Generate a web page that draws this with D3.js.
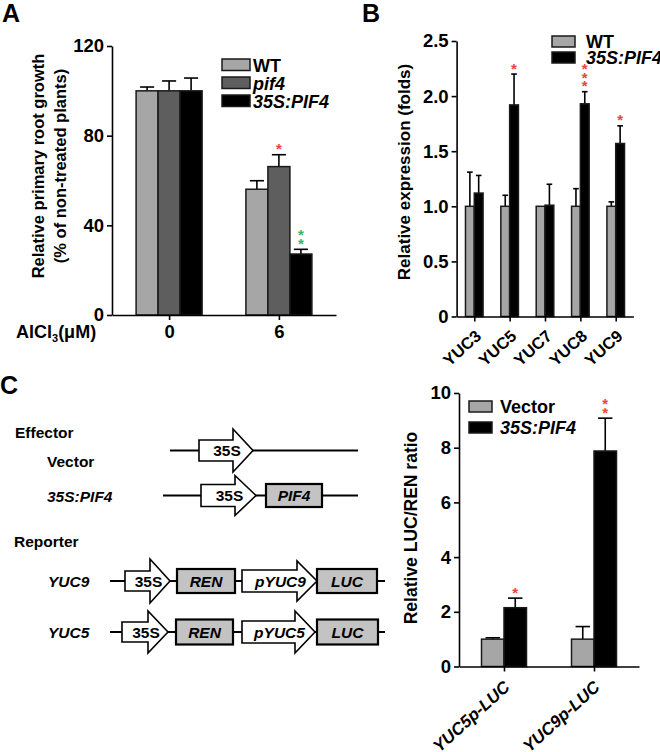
<!DOCTYPE html>
<html><head><meta charset="utf-8">
<script src="https://cdn.jsdelivr.net/npm/d3@7"></script>
<style>
body{margin:0;background:#fff}
svg{display:block;font-family:"Liberation Sans",Arial,Helvetica,sans-serif;font-weight:bold}
</style></head><body>
<svg id="fig" width="660" height="752"></svg>
<script>
// ---------------- DATA ----------------
// Panel A: relative primary root growth
const aCategories = ["0", "6"];
const aSeriesNames = ["WT", "pif4", "35S:PIF4"];
const aWT = [100, 56.1];
const aWTerr = [1.7, 3.8];
const aPif4 = [100, 66.2];
const aPif4err = [4.4, 5.3];
const aOX = [100, 27.2];
const aOXerr = [5.7, 2.1];
const aTicks = [0, 40, 80, 120];
const aStars = [{cat: "6", series: "pif4", n: 1, color: "red"}, {cat: "6", series: "35S:PIF4", n: 2, color: "green"}];

// Panel B: relative expression
const bCategories = ["YUC3", "YUC5", "YUC7", "YUC8", "YUC9"];
const bSeriesNames = ["WT", "35S:PIF4"];
const bWT = [1.0, 1.0, 1.0, 1.0, 1.0];
const bWTerr = [0.31, 0.10, 0.0, 0.16, 0.04];
const bOX = [1.12, 1.92, 1.01, 1.93, 1.57];
const bOXerr = [0.16, 0.28, 0.19, 0.11, 0.16];
const bTicks = [0, 0.5, 1.0, 1.5, 2.0, 2.5];
const bStars = [{cat: "YUC5", series: "35S:PIF4", n: 1, color: "red"}, {cat: "YUC8", series: "35S:PIF4", n: 3, color: "red"}, {cat: "YUC9", series: "35S:PIF4", n: 1, color: "red"}];

// Panel C: relative LUC/REN ratio
const cCategories = ["YUC5p-LUC", "YUC9p-LUC"];
const cSeriesNames = ["Vector", "35S:PIF4"];
const cVector = [1.0, 1.0];
const cVectorErr = [0.05, 0.46];
const cOX = [2.15, 7.88];
const cOXerr = [0.35, 1.2];
const cTicks = [0, 2, 4, 6, 8, 10];
const cStars = [{cat: "YUC5p-LUC", series: "35S:PIF4", n: 1, color: "red"}, {cat: "YUC9p-LUC", series: "35S:PIF4", n: 2, color: "red"}];

// ---------------- STYLE ----------------
const COLORS = {"WT": "#a6a6a6", "pif4": "#5e5e5e", "35S:PIF4": "#000000", "Vector": "#a6a6a6"};
const STAR = {red: "#e8453c", green: "#35b56e"};
const ITALIC = {"pif4": true, "35S:PIF4": true, "YUC5p-LUC": true, "YUC9p-LUC": true};

const svg = d3.select("#fig");

function styleAxis(sel, fs) {
  sel.selectAll("path.domain").attr("stroke", "#000").attr("stroke-width", 1.6);
  sel.selectAll(".tick line").attr("stroke", "#000").attr("stroke-width", 1.6);
  sel.selectAll(".tick text").attr("fill", "#000").attr("font-size", fs).attr("font-weight", "bold")
    .attr("font-family", '"Liberation Sans", Arial, sans-serif');
}

function barPanel(o) {
  const g = svg.append("g");
  const y = d3.scaleLinear().domain([0, o.yMax]).range([o.yBottom, o.yTop]);
  const x = d3.scalePoint().domain(o.cats).range([o.xLeft, o.xRight]).padding(o.pad);
  const n = o.series.length;
  const sub = d3.scaleBand().domain(o.series.map(s => s.name)).range([-o.barW * n / 2, o.barW * n / 2]);
  const bw = sub.bandwidth();

  o.series.forEach(s => {
    const data = o.cats.map((c, i) => ({c, v: s.values[i], e: s.errs[i]}));
    const cx = d => x(d.c) + sub(s.name) + bw / 2;
    g.selectAll(null).data(data).join("line")
      .attr("x1", cx).attr("x2", cx)
      .attr("y1", d => y(d.v)).attr("y2", d => y(d.v + d.e))
      .attr("stroke", "#000").attr("stroke-width", 1.6);
    g.selectAll(null).data(data.filter(d => d.e > 0)).join("line")
      .attr("x1", d => cx(d) - bw * 0.32).attr("x2", d => cx(d) + bw * 0.32)
      .attr("y1", d => y(d.v + d.e)).attr("y2", d => y(d.v + d.e))
      .attr("stroke", "#000").attr("stroke-width", 1.6);
    g.selectAll(null).data(data).join("rect")
      .attr("x", d => x(d.c) + sub(s.name)).attr("width", bw)
      .attr("y", d => y(d.v)).attr("height", d => y(0) - y(d.v))
      .attr("fill", COLORS[s.name]).attr("stroke", "#1a1a1a").attr("stroke-width", 1.5);
  });

  // stars
  o.stars.forEach(st => {
    const s = o.series.find(q => q.name === st.series);
    const i = o.cats.indexOf(st.cat);
    const top = y(s.values[i] + s.errs[i]);
    const cx = x(st.cat) + sub(st.series) + bw / 2;
    for (let k = 0; k < st.n; k++) {
      g.append("text").attr("x", cx).attr("y", top - 9 - k * 8.5 + 8.5)
        .attr("text-anchor", "middle").attr("font-size", 15).attr("font-weight", "bold")
        .attr("fill", STAR[st.color]).text("*");
    }
  });

  // axes
  const ya = g.append("g").attr("transform", `translate(${o.xLeft},0)`)
    .call(d3.axisLeft(y).tickValues(o.ticks).tickSize(5).tickSizeOuter(0).tickPadding(3).tickFormat(o.fmt));
  styleAxis(ya, o.tickFs);
  const xa = g.append("g").attr("transform", `translate(0,${o.yBottom})`)
    .call(d3.axisBottom(x).tickSize(5).tickSizeOuter(0).tickPadding(5).tickFormat(o.rot ? "" : (d => d)));
  styleAxis(xa, o.tickFs);
  if (o.rot) {
    g.selectAll(null).data(o.cats).join("text")
      .attr("transform", d => `translate(${x(d) + o.rot.dx},${o.yBottom + o.rot.dy}) rotate(${o.rot.angle})`)
      .attr("text-anchor", "end").attr("font-size", o.rot.fs).attr("font-weight", "bold")
      .attr("font-style", d => ITALIC[d] ? "italic" : "normal").text(d => d);
  }
  // y title
  const tg = g.append("g").attr("transform", `translate(${o.title.x},${o.title.y}) rotate(-90)`);
  o.title.lines.forEach((t, i) => {
    tg.append("text").attr("x", 0).attr("y", i * o.title.lh).attr("text-anchor", "middle")
      .attr("font-size", o.title.fs).attr("font-weight", "bold").text(t);
  });
  // legend
  o.series.forEach((s, i) => {
    const L = o.legend;
    g.append("rect").attr("x", L.x).attr("y", L.y + i * L.dy).attr("width", L.w).attr("height", L.h)
      .attr("fill", COLORS[s.name]).attr("stroke", "#1a1a1a").attr("stroke-width", 1.5);
    g.append("text").attr("x", L.tx).attr("y", L.y + i * L.dy + L.h + 1)
      .attr("font-size", L.fs).attr("font-weight", "bold")
      .attr("font-style", ITALIC[s.name] ? "italic" : "normal").text(s.name);
  });
  return {x, y};
}

// Panel A
barPanel({
  cats: aCategories,
  series: [
    {name: aSeriesNames[0], values: aWT, errs: aWTerr},
    {name: aSeriesNames[1], values: aPif4, errs: aPif4err},
    {name: aSeriesNames[2], values: aOX, errs: aOXerr}],
  stars: aStars, yMax: 120, ticks: aTicks, fmt: d3.format("d"),
  yBottom: 315, yTop: 46, xLeft: 112, xRight: 336, pad: 0.52, barW: 22, tickFs: 18.5,
  title: {x: 44, y: 166, lh: 22, fs: 16.5, lines: ["Relative primary root growth", "(% of non-treated plants)"]},
  legend: {x: 222, y: 59, dy: 18, w: 28, h: 11.5, tx: 253, fs: 18}
});
// AlCl3 label
const al = svg.append("text").attr("x", 16).attr("y", 338).attr("font-size", 18).attr("font-weight", "bold");
al.append("tspan").text("AlCl");
al.append("tspan").attr("font-size", 11).attr("dy", 4).text("3");
al.append("tspan").attr("dy", -4).text("(\u03bcM)");

// Panel B
barPanel({
  cats: bCategories,
  series: [
    {name: bSeriesNames[0], values: bWT, errs: bWTerr},
    {name: bSeriesNames[1], values: bOX, errs: bOXerr}],
  stars: bStars, yMax: 2.5, ticks: bTicks, fmt: d => d === 0 ? "0" : d3.format(".1f")(d),
  yBottom: 316.5, yTop: 41, xLeft: 456.6, xRight: 633.4, pad: 0.5, barW: 8.8, tickFs: 18.5,
  rot: {dx: 8, dy: 21, angle: -42, fs: 16.5},
  title: {x: 410, y: 172, lh: 22, fs: 17, lines: ["Relative expression (folds)"]},
  legend: {x: 552, y: 36, dy: 16, w: 23, h: 11, tx: 586, fs: 18}
});

// Panel C chart
barPanel({
  cats: cCategories,
  series: [
    {name: cSeriesNames[0], values: cVector, errs: cVectorErr},
    {name: cSeriesNames[1], values: cOX, errs: cOXerr}],
  stars: cStars, yMax: 10, ticks: cTicks, fmt: d3.format("d"),
  yBottom: 666.5, yTop: 393, xLeft: 459, xRight: 639, pad: 0.5, barW: 22.5, tickFs: 18.5,
  rot: {dx: 7, dy: 22, angle: -42, fs: 17},
  title: {x: 417, y: 528, lh: 22, fs: 17.5, lines: ["Relative LUC/REN ratio"]},
  legend: {x: 469, y: 401, dy: 21, w: 23, h: 11, tx: 500, fs: 18}
});

// Panel letters
[["A", 2, 22], ["B", 362, 22], ["C", 0, 394]].forEach(([t, x, y]) => {
  svg.append("text").attr("x", x).attr("y", y).attr("font-size", 25).attr("font-weight", "bold").text(t);
});

// ---------------- Schematic (panel C left) ----------------
const schemLabels = [
  {text: "Effector", x: 15, y: 438, italic: false},
  {text: "Vector", x: 47, y: 467, italic: false},
  {text: "35S:PIF4", x: 47, y: 502, italic: true},
  {text: "Reporter", x: 14, y: 547, italic: false},
  {text: "YUC9", x: 48, y: 587, italic: true},
  {text: "YUC5", x: 48, y: 638, italic: true}
];
schemLabels.forEach(l => svg.append("text").attr("x", l.x).attr("y", l.y).attr("font-size", 15.5)
  .attr("font-weight", "bold").attr("font-style", l.italic ? "italic" : "normal").text(l.text));

const schemRows = [
  {y: 450.5, line: [170, 358], parts: [
    {type: "arrow", text: "35S", x0: 199, x1: 233, tip: 253, bh: 10.5, hh: 21.5}]},
  {y: 495.5, line: [163, 358], parts: [
    {type: "arrow", text: "35S", x0: 201, x1: 235, tip: 256, bh: 11, hh: 20},
    {type: "box", text: "PIF4", x0: 266, x1: 322, bh: 11.5}]},
  {y: 581, line: [110, 385], parts: [
    {type: "arrow", text: "35S", x0: 125, x1: 150, tip: 170, bh: 10, hh: 22},
    {type: "box", text: "REN", x0: 177, x1: 235, bh: 12},
    {type: "arrow", text: "pYUC9", italic: true, x0: 242, x1: 297, tip: 317, bh: 11, hh: 20},
    {type: "box", text: "LUC", x0: 317, x1: 377, bh: 12}]},
  {y: 632, line: [110, 385], parts: [
    {type: "arrow", text: "35S", x0: 122, x1: 148, tip: 168, bh: 10, hh: 21},
    {type: "box", text: "REN", x0: 176, x1: 233, bh: 12.5},
    {type: "arrow", text: "pYUC5", italic: true, x0: 242, x1: 295, tip: 315, bh: 11, hh: 21},
    {type: "box", text: "LUC", x0: 317, x1: 378, bh: 12.5}]}
];
schemRows.forEach(r => {
  const g = svg.append("g");
  g.append("line").attr("x1", r.line[0]).attr("x2", r.line[1]).attr("y1", r.y).attr("y2", r.y)
    .attr("stroke", "#000").attr("stroke-width", 1.8);
  r.parts.forEach(p => {
    let cx;
    if (p.type === "arrow") {
      const y = r.y;
      const pts = [[p.x0, y - p.bh], [p.x1, y - p.bh], [p.x1, y - p.hh], [p.tip, y], [p.x1, y + p.hh], [p.x1, y + p.bh], [p.x0, y + p.bh]];
      g.append("path").attr("d", d3.line()(pts) + "Z").attr("fill", "#fff").attr("stroke", "#000").attr("stroke-width", 1.6);
      cx = (p.x0 + p.tip) / 2 + 1;
    } else {
      g.append("rect").attr("x", p.x0).attr("y", r.y - p.bh).attr("width", p.x1 - p.x0).attr("height", p.bh * 2)
        .attr("fill", "#c3c3c3").attr("stroke", "#000").attr("stroke-width", 2.2);
      cx = (p.x0 + p.x1) / 2;
    }
    g.append("text").attr("x", cx).attr("y", r.y + 5.5).attr("text-anchor", "middle").attr("font-size", 15.5)
      .attr("font-weight", "bold").attr("font-style", (p.type === "box" || p.italic) ? "italic" : "normal").text(p.text);
  });
});
</script>
</body></html>
